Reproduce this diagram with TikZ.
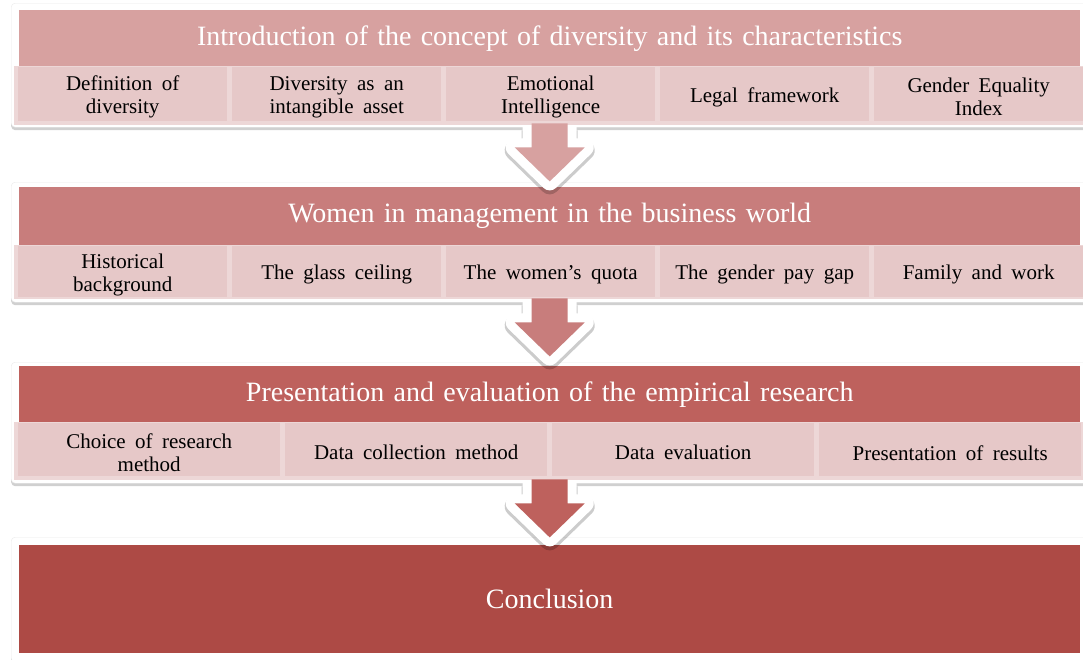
\documentclass[tikz,border=0pt]{standalone}
\usepackage{fontspec}
\setmainfont{Liberation Serif}
\usetikzlibrary{shadows,calc}
\definecolor{hdrA}{HTML}{D7A1A0}
\definecolor{hdrB}{HTML}{C87D7C}
\definecolor{hdrC}{HTML}{BE615D}
\definecolor{hdrD}{HTML}{AD4A45}
\definecolor{cellfill}{HTML}{E6C8C8}
\definecolor{cellbg}{HTML}{EDD7D7}
\newcommand\myhdrfont{\fontsize{28}{32}\selectfont\spaceskip 0.33em\relax}
\newcommand\mycellfont{\fontsize{21}{23}\selectfont\spaceskip 0.45em\relax}
\begin{document}
\begin{tikzpicture}[x=1pt,y=-1pt,
  frame/.style={fill=white, draw=black!8, rounded corners=4pt, anchor=north west,
    minimum width=1084pt, inner sep=0pt,
    drop shadow={shadow xshift=0pt, shadow yshift=-3pt, opacity=0.3, fill=black!60}},
  hdr/.style={anchor=north west, minimum width=1061pt, inner sep=0pt, text=white,
    font=\myhdrfont},
  cbg/.style={fill=cellbg, anchor=north west, minimum width=1076pt, inner sep=0pt},
  cellbox/.style={fill=cellfill, anchor=north west, inner sep=0pt},
  celltext/.style={inner sep=0pt, align=center, text=black, yshift=-3pt,
    font=\mycellfont},
  arrowfill/.style={fill=#1},
  arrowline/.style={draw=white, line width=18pt, line join=round},
  arrowshade/.style={draw=black, opacity=0.2, line width=20pt, line join=round}
]
\useasboundingbox (0,0) rectangle (1083,659);
\fill[white] (0,0) rectangle (1083,659);

% ---------- Panel 1 ----------
\node[frame, minimum height=124pt] (f1) at (11,3) {};
\node[hdr, fill=hdrA, minimum height=56pt] (h1) at (19,10)
  {Introduction of the concept of diversity and its characteristics};
\node[cbg, minimum height=59pt] (r1) at (14,66) {};
\foreach \n/\x in {1/18, 2/232, 3/446, 4/660, 5/874}
  \node[cellbox, minimum width=209pt, minimum height=54pt] (c1\n) at (\x,67) {};
\node[celltext] (t11) at (c11.center) {Definition of\\diversity};
\node[celltext] (t12) at (c12.center) {Diversity as an\\intangible asset};
\node[celltext] (t13) at (c13.center) {Emotional\\Intelligence};
\node[celltext] (t14) at (c14.center) {Legal framework};
\node[celltext] (t15) at (c15.center) {Gender Equality\\Index};

% ---------- Panel 2 ----------
\node[frame, minimum height=120pt] (f2) at (11,182) {};
\node[hdr, fill=hdrB, minimum height=58pt] (h2) at (19,187)
  {Women in management in the business world};
\node[cbg, minimum height=54pt] (r2) at (14,245) {};
\foreach \n/\x in {1/18, 2/232, 3/446, 4/660, 5/874}
  \node[cellbox, minimum width=209pt, minimum height=51pt] (c2\n) at (\x,246) {};
\node[celltext] (t21) at (c21.center) {Historical\\background};
\node[celltext] (t22) at (c22.center) {The glass ceiling};
\node[celltext] (t23) at (c23.center) {The women's quota};
\node[celltext] (t24) at (c24.center) {The gender pay gap};
\node[celltext] (t25) at (c25.center) {Family and work};

% ---------- Panel 3 ----------
\node[frame, minimum height=121pt] (f3) at (11,362) {};
\node[hdr, fill=hdrC, minimum height=56pt] (h3) at (19,366)
  {Presentation and evaluation of the empirical research};
\node[cbg, minimum height=58pt] (r3) at (14,422) {};
\foreach \n/\x in {1/18, 2/285, 3/552, 4/819}
  \node[cellbox, minimum width=262pt, minimum height=53pt] (c3\n) at (\x,423) {};
\node[celltext] (t31) at (c31.center) {Choice of research\\method};
\node[celltext] (t32) at (c32.center) {Data collection method};
\node[celltext] (t33) at (c33.center) {Data evaluation};
\node[celltext] (t34) at (c34.center) {Presentation of results};

% ---------- Panel 4 ----------
\node[frame, minimum height=125pt] (f4) at (11,537) {};
\node[hdr, fill=hdrD, minimum height=108pt] (h4) at (19,545) {Conclusion};

% ---------- Arrows ----------
\foreach \src/\col in {f1/hdrA, f2/hdrB, f3/hdrC}{
  \begin{scope}[shift={(h1.center |- \src.south)}]
    \draw[arrowshade, yshift=-3pt] (-18,0) -- (-18,20) -- (-35,20) -- (0,54) -- (35,20) -- (18,20) -- (18,0);
    \draw[arrowline] (-18,-1) -- (-18,20) -- (-35,20) -- (0,54) -- (35,20) -- (18,20) -- (18,-1);
    \fill[arrowfill=\col] (-18,-4) -- (-18,20) -- (-35,20) -- (0,54) -- (35,20) -- (18,20) -- (18,-4) -- cycle;
  \end{scope}
}
\end{tikzpicture}
\end{document}
